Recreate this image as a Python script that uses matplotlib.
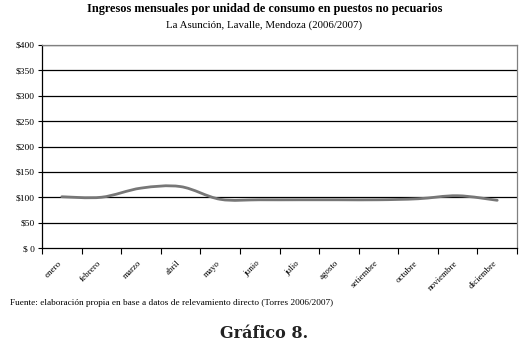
import matplotlib
matplotlib.use("Agg")
import matplotlib.pyplot as plt
from matplotlib.path import Path
from matplotlib.patches import PathPatch
import matplotlib.transforms as mtransforms
import numpy as np

months = ["enero", "febrero", "marzo", "abril", "mayo", "junio", "julio",
          "agosto", "setiembre", "octubre", "noviembre", "diciembre"]
ingresos = [101, 100, 118, 121, 96, 95, 95, 95, 95, 97, 103, 94]
yticks = [0, 50, 100, 150, 200, 250, 300, 350, 400]
ylabels = ["$ 0", "$50", "$100", "$150", "$200", "$250", "$300", "$350", "$400"]

serif = ["Liberation Serif", "DejaVu Serif"]

fig = plt.figure(figsize=(5.29, 3.46), dpi=100)
ax = fig.add_axes([42/529, 1-248/346, (517-42)/529, (248-45)/346])

x = np.arange(len(months)) + 0.5
y = np.array(ingresos, dtype=float)

# Smoothed line (Bezier through the data points, like a spreadsheet's smooth line)
verts = [(x[0], y[0])]
codes = [Path.MOVETO]
n = len(x)
for i in range(n - 1):
    p0 = (x[i-1], y[i-1]) if i > 0 else (x[i], y[i])
    p1 = (x[i], y[i])
    p2 = (x[i+1], y[i+1])
    p3 = (x[i+2], y[i+2]) if i + 2 < n else (x[i+1], y[i+1])
    c1 = (p1[0] + (p2[0]-p0[0])/6, p1[1] + (p2[1]-p0[1])/6)
    c2 = (p2[0] - (p3[0]-p1[0])/6, p2[1] - (p3[1]-p1[1])/6)
    verts += [c1, c2, p2]
    codes += [Path.CURVE4]*3
patch = PathPatch(Path(verts, codes), facecolor="none", edgecolor="#777777",
                  lw=2.0, zorder=3, capstyle="round")
ax.add_patch(patch)

ax.set_xlim(0, 12)
ax.set_ylim(0, 400)
ax.set_yticks(yticks)
ax.set_yticklabels(ylabels, fontsize=6.8, family=serif)
for t in yticks[1:]:
    ax.axhline(t, color="black", lw=0.9, zorder=1)

ax.set_xticks(np.arange(0, 13))
ax.set_xticklabels([])
ax.set_xticks(x, minor=True)
ax.set_xticklabels(months, minor=True, rotation=45, ha="right",
                   rotation_mode="anchor", fontsize=6.5, family=serif)
ax.tick_params(axis="x", which="minor", length=0, pad=8)
ax.tick_params(axis="x", which="major", length=4, width=0.8, direction="out")
ax.tick_params(axis="y", length=3, width=0.8, direction="out", pad=2)
offset = mtransforms.ScaledTranslation(-4/100, 0, fig.dpi_scale_trans)
for lab in ax.get_xticklabels(minor=True):
    lab.set_transform(lab.get_transform() + offset)

ax.spines["left"].set_color("black")
ax.spines["bottom"].set_color("black")
ax.spines["right"].set_color("#808080")
ax.spines["top"].set_color("#808080")
for s in ax.spines.values():
    s.set_linewidth(0.9)

fig.text(0.5, 1-9/346, "Ingresos mensuales por unidad de consumo en puestos no pecuarios",
         ha="center", va="center", fontsize=8.8, fontweight="bold", family=serif)
fig.text(0.5, 1-25/346, "La Asunción, Lavalle, Mendoza (2006/2007)",
         ha="center", va="center", fontsize=7.8, family=serif)
fig.text(10/529, 1-303/346,
         "Fuente: elaboración propia en base a datos de relevamiento directo (Torres 2006/2007)",
         ha="left", va="center", fontsize=6.7, family=serif)
fig.text(0.5, 1-333/346, "Gráfico 8.", ha="center", va="center",
         fontsize=11.5, fontweight="bold", family=["DejaVu Serif"], color="#222222")

fig.savefig("out.png", dpi=100)
